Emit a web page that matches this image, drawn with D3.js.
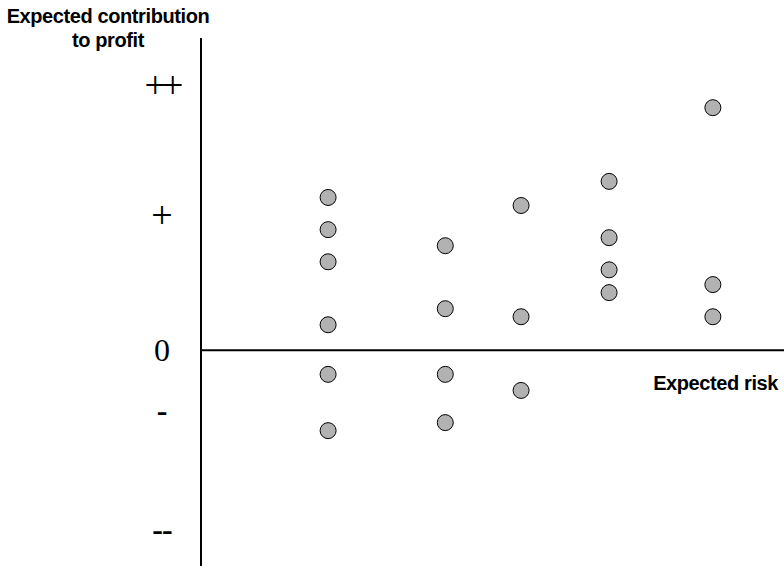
<!DOCTYPE html>
<html>
<head>
<meta charset="utf-8">
<script src="https://cdn.jsdelivr.net/npm/d3@7"></script>
<style>
  body { margin: 0; background: #fff; }
  svg { display: block; }
</style>
</head>
<body>
<svg class="chart" width="784" height="566"></svg>
<script>
// risk columns and the profit values of the dots in each column
const riskLevels = [2.18, 4.19, 5.49, 7.0, 8.78];
const profitValues = [
  [1.14, 0.9, 0.66, 0.19, -0.18, -0.6],
  [0.78, 0.31, -0.18, -0.54],
  [1.08, 0.25, -0.3],
  [1.26, 0.84, 0.6, 0.43],
  [1.81, 0.49, 0.25],
];
const tickValues = [1.97, 1.0, 0.0, -0.45, -1.34];
const tickLabels = ["++", "+", "0", "-", "--"];

const svg = d3.select(".chart");

const x = d3.scaleLinear().domain([0, 10]).range([201, 784]);
const y = d3.scaleLinear().domain([-1.61, 2.33]).range([566, 38]);

// flatten into points
const points = [];
riskLevels.forEach((r, i) => {
  profitValues[i].forEach((p) => points.push({ risk: r, profit: p }));
});

// axes as plain lines
svg
  .append("line")
  .attr("x1", x(0))
  .attr("x2", x(0))
  .attr("y1", y(2.33))
  .attr("y2", y(-1.61))
  .attr("stroke", "black")
  .attr("stroke-width", 2);

svg
  .append("line")
  .attr("x1", x(0))
  .attr("x2", x(10))
  .attr("y1", y(0))
  .attr("y2", y(0))
  .attr("stroke", "black")
  .attr("stroke-width", 2);

// y labels (serif symbols)
const isPlus = (i) => tickLabels[i].startsWith("+");
const isMinus = (i) => tickLabels[i].startsWith("-");

svg
  .selectAll("text.tick")
  .data(tickValues)
  .enter()
  .append("text")
  .attr("class", "tick")
  .attr("x", 162)
  .attr("y", (d) => y(d))
  .attr("dy", (d, i) => (isPlus(i) ? "0.3em" : "0.33em"))
  .attr("text-anchor", "middle")
  .attr("font-family", "Liberation Serif, Times New Roman, serif")
  .attr("font-size", (d, i) => (isPlus(i) ? 38 : 32))
  .attr("font-weight", (d, i) => (isMinus(i) ? "bold" : "normal"))
  .attr("letter-spacing", (d, i) => (tickLabels[i] === "++" ? -4 : tickLabels[i] === "--" ? -1 : 0))
  .attr("fill", "black")
  .text((d, i) => tickLabels[i]);

// titles
const title = svg
  .append("text")
  .attr("font-family", "Liberation Sans, Arial, sans-serif")
  .attr("font-weight", "bold")
  .attr("font-size", 20)
  .attr("letter-spacing", -0.4)
  .attr("text-anchor", "middle");
title.append("tspan").attr("x", 108).attr("y", 23).text("Expected contribution");
title.append("tspan").attr("x", 108).attr("y", 47).text("to profit");

svg
  .append("text")
  .attr("x", 778)
  .attr("y", 390)
  .attr("text-anchor", "end")
  .attr("font-family", "Liberation Sans, Arial, sans-serif")
  .attr("font-weight", "bold")
  .attr("font-size", 20)
  .attr("letter-spacing", -0.4)
  .text("Expected risk");

// dots
svg
  .selectAll("circle")
  .data(points)
  .enter()
  .append("circle")
  .attr("cx", (d) => x(d.risk))
  .attr("cy", (d) => y(d.profit))
  .attr("r", 8)
  .attr("fill", "#b2b2b2")
  .attr("stroke", "black")
  .attr("stroke-width", 1);
</script>
</body>
</html>
